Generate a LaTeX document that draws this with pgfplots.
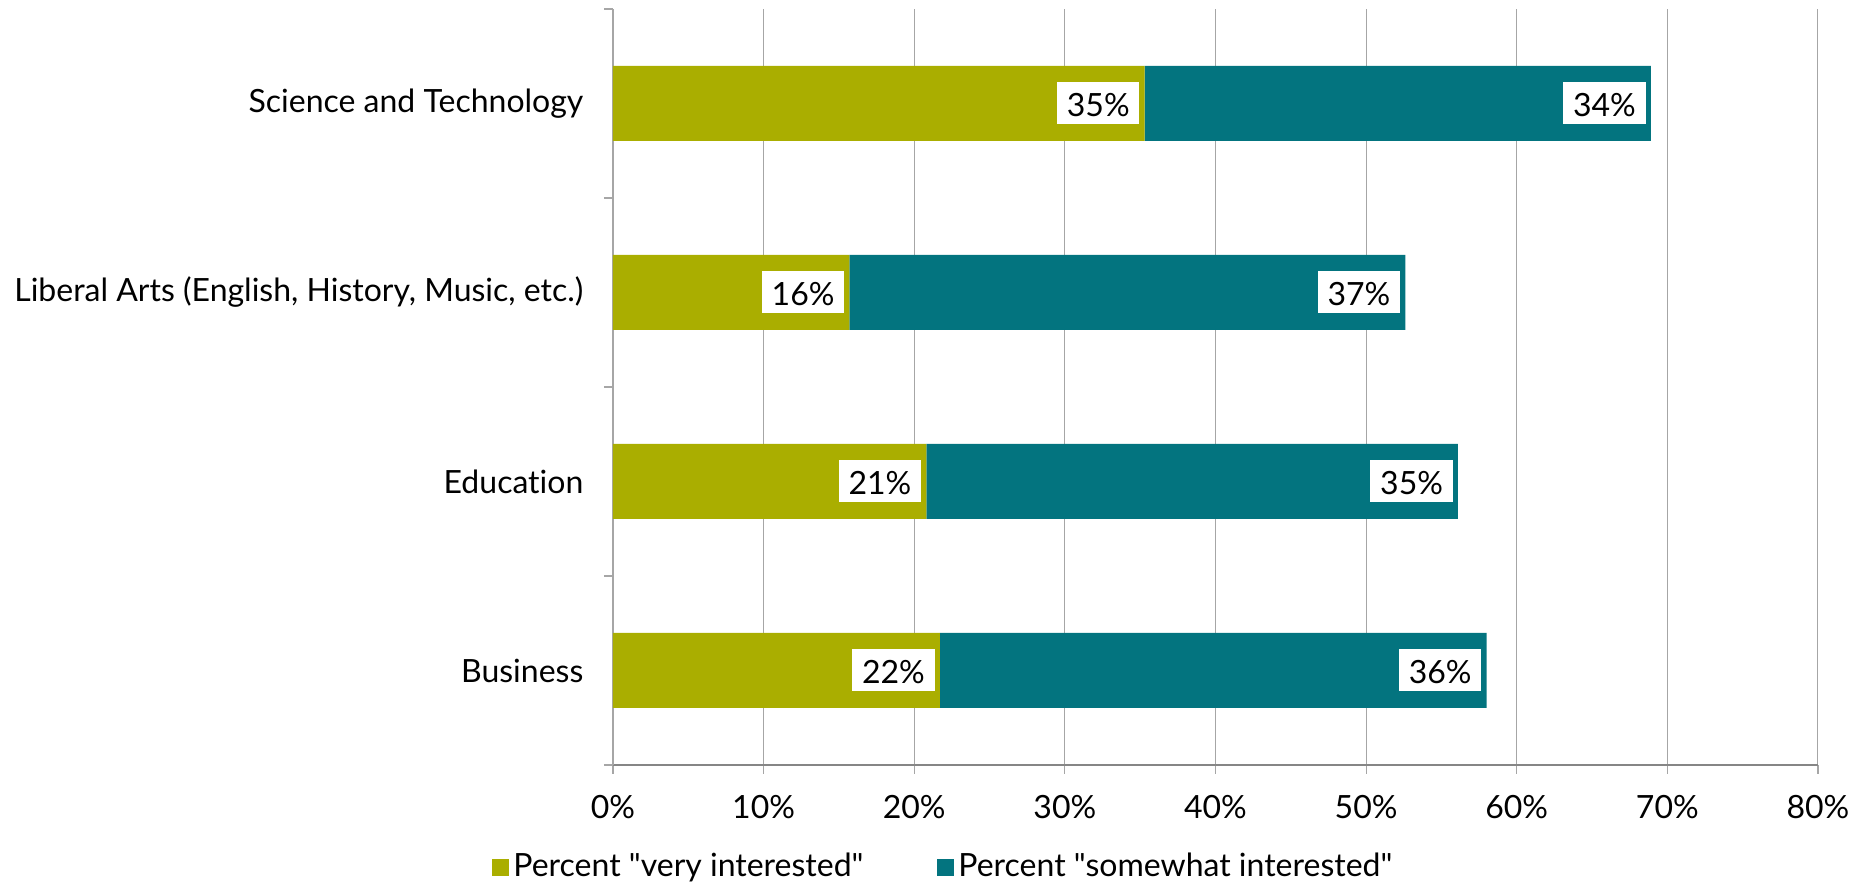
\documentclass[border=0pt]{standalone}
\usepackage{fontspec}
\setmainfont{Lato}[Ligatures={TeXOff,NoCommon}]
\usepackage{pgfplots}
\pgfplotsset{compat=1.18}
\definecolor{barolive}{RGB}{170,174,0}
\definecolor{barteal}{RGB}{3,116,127}
\definecolor{gridgray}{RGB}{166,166,166}
\definecolor{axisgray}{RGB}{134,134,134}
\begin{document}
\fontsize{16}{19}\selectfont
\begin{tikzpicture}
\useasboundingbox (-306.5pt,-60.5pt) rectangle (630pt,382.5pt);
\begin{axis}[
  compat/bar nodes=1.8,
  at={(0,0)}, anchor=south west,
  scale only axis, width=602.5pt, height=378pt,
  xbar stacked, bar width=37.5pt,
  xmin=0, xmax=80, ymin=-0.5, ymax=3.5,
  axis x line*=bottom, axis y line*=left,
  x axis line style={draw=axisgray, line width=1pt, -},
  y axis line style={draw=gridgray, line width=0.6pt, -},
  tick align=outside, major tick length=4.5pt,
  tick style={draw=gridgray, line width=0.6pt},
  xtick={0,10,...,80},
  xticklabels={0\%,10\%,20\%,30\%,40\%,50\%,60\%,70\%,80\%},
  xticklabel style={yshift=-5pt},
  xmajorgrids, grid style={draw=gridgray, line width=0.5pt},
  ytick={-0.5,0.5,1.5,2.5,3.5}, yticklabels={},
  extra y ticks={0,1,2,3},
  extra y tick labels={Business,Education,{Liberal Arts (English, History, Music, etc.)},Science and Technology},
  extra y tick style={tick style={draw=none}, yticklabel style={xshift=-4.8pt}},
  nodes near coords, point meta=explicit symbolic,
  every node near coord/.append style={anchor=east, xshift=-2.4pt, fill=white,
    inner xsep=4.9pt, inner ysep=2pt, text height=14.8pt, text depth=2.2pt, text=black},
  legend style={at={(0.275,-0.135)}, anchor=center, draw=none, fill=none,
    legend columns=2, /tikz/every even column/.append style={column sep=35pt},
    cells={anchor=west}},
]
\addplot[fill=barolive, draw=none,
  legend image code/.code={\fill[barolive] (0pt,-4.25pt) rectangle (8.5pt,4.25pt);}]
  coordinates {(21.7,0) [22\%] (20.8,1) [21\%] (15.7,2) [16\%] (35.3,3) [35\%]};
\addlegendentry{Percent "very interested"}
\addplot[fill=barteal, draw=none,
  legend image code/.code={\fill[barteal] (0pt,-4.25pt) rectangle (8.5pt,4.25pt);}]
  coordinates {(36.3,0) [36\%] (35.3,1) [35\%] (36.9,2) [37\%] (33.6,3) [34\%]};
\addlegendentry{Percent "somewhat interested"}
\end{axis}
\end{tikzpicture}
\end{document}
